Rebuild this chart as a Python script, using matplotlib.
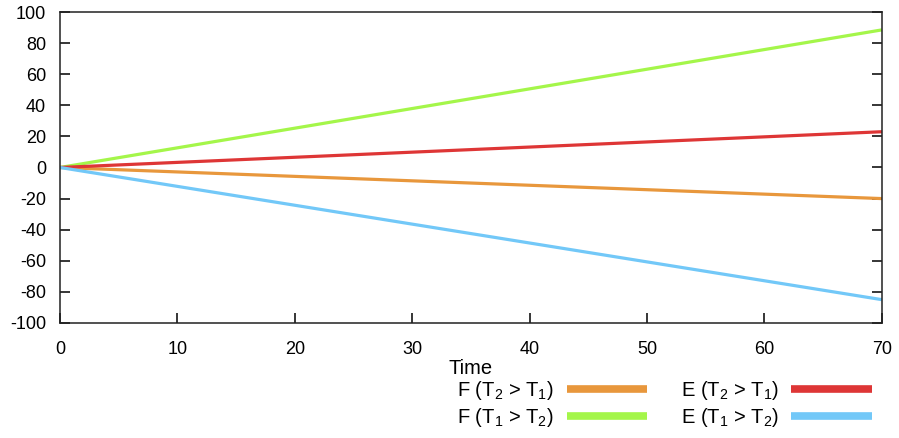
import numpy as np
import matplotlib.pyplot as plt
from matplotlib.lines import Line2D

plt.rcParams['font.family'] = ['Liberation Sans', 'DejaVu Sans']
plt.rcParams['mathtext.default'] = 'regular'
plt.rcParams['axes.unicode_minus'] = False

# data
time = [0, 70]
f_t2_gt_t1 = [0, -20]
e_t2_gt_t1 = [0, 23]
f_t1_gt_t2 = [0, 88.5]
e_t1_gt_t2 = [0, -85]

labels = [r'F (T$_2$ > T$_1$)', r'F (T$_1$ > T$_2$)',
          r'E (T$_2$ > T$_1$)', r'E (T$_1$ > T$_2$)']
colors = ['#E8973C', '#A4F64A', '#DE3636', '#72C8F8']

fig = plt.figure(figsize=(8.99, 4.38), dpi=100)
ax = fig.add_axes([0.0667, 0.2626, 0.9143, 0.71])

series = [f_t2_gt_t1, f_t1_gt_t2, e_t2_gt_t1, e_t1_gt_t2]
for y, c, lab in zip(series, colors, labels):
    ax.plot(time, y, color=c, lw=2.3, label=lab, solid_capstyle='butt')

ax.set_xlim(0, 70)
ax.set_ylim(-100, 100)
ax.set_xticks(np.arange(0, 71, 10))
ax.set_yticks(np.arange(-100, 101, 20))

for s in ax.spines.values():
    s.set_linewidth(1.1)
    s.set_color('#222222')

ax.tick_params(axis='y', direction='in', length=7, width=1.1, right=True,
               labelsize=13, pad=10)
ax.tick_params(axis='x', direction='in', length=7, width=1.1, top=False,
               labelsize=13, pad=13)
ax.set_xlabel('Time', fontsize=14.5, labelpad=1)

# legend below the plot, text before the line
leg_handles = [Line2D([], [], color=c, lw=5.5, solid_capstyle='butt') for c in colors]
fig.legend(leg_handles, labels, loc='upper right', bbox_to_anchor=(0.97, 0.135),
           ncol=2, markerfirst=False, frameon=False, fontsize=14.5,
           handlelength=4.0, handletextpad=0.65, columnspacing=1.65,
           borderpad=0, borderaxespad=0, labelspacing=0.2)

plt.savefig('out.png', dpi=100)
